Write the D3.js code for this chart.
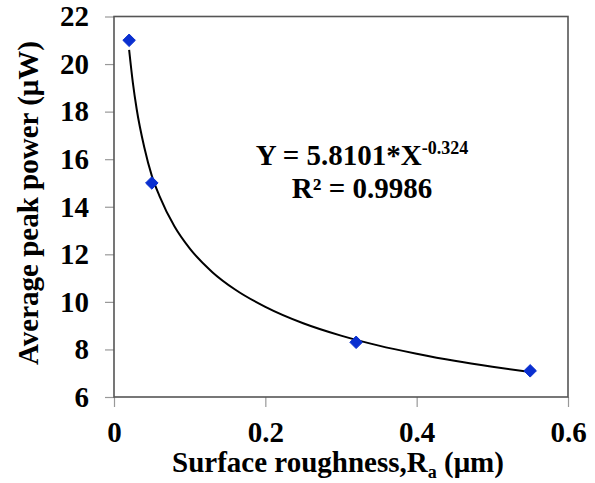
<!DOCTYPE html>
<html>
<head>
<meta charset="utf-8">
<script src="https://cdn.jsdelivr.net/npm/d3@7.9.0/dist/d3.min.js"></script>
<style>
  body { margin: 0; background: #fff; }
  #chart text { font-family: "Times New Roman", Times, "Liberation Serif", "DejaVu Serif", "Noto Serif", serif; }
</style>
</head>
<body>
<svg id="chart" width="595" height="483"></svg>
<script>
// measured points
const roughness = [0.02, 0.05, 0.32, 0.55];
const peakPower = [21, 15, 8.3, 7.1];

// power trendline
const trendX = [0.02, 0.025, 0.03, 0.04, 0.05, 0.06, 0.08, 0.1, 0.13, 0.16, 0.2, 0.25, 0.3, 0.35, 0.4, 0.45, 0.5, 0.55];
const trendY = [20.6, 19.2, 18.1, 16.5, 15.3, 14.46, 13.17, 12.25, 11.25, 10.52, 9.79, 9.1, 8.58, 8.16, 7.82, 7.52, 7.27, 7.05];

const xTicks = [0, 0.2, 0.4, 0.6];
const yTicks = [6, 8, 10, 12, 14, 16, 18, 20, 22];

const svg = d3.select('#chart');
const plotL = 114, plotR = 568, plotT = 16.5, plotB = 397;

const x = d3.scaleLinear().domain([0, 0.6]).range([plotL, plotR]);
const y = d3.scaleLinear().domain([6, 22]).range([plotB, plotT]);

// axes
const xAxis = svg.append('g')
  .attr('transform', `translate(0,${plotB})`)
  .call(d3.axisBottom(x).tickValues(xTicks).tickSize(10).tickPadding(14)
    .tickFormat(d => d === 0 ? '0' : d3.format('.1f')(d)));
const yAxis = svg.append('g')
  .attr('transform', `translate(${plotL},0)`)
  .call(d3.axisLeft(y).tickValues(yTicks).tickSize(9).tickPadding(16));

[xAxis, yAxis].forEach(g => {
  g.attr('font-size', 29).attr('font-weight', 'bold');
  g.select('.domain').remove();
  g.selectAll('line').attr('stroke', '#999').attr('stroke-width', 1.2);
});

// frame
svg.append('rect')
  .attr('x', plotL).attr('y', plotT)
  .attr('width', plotR - plotL).attr('height', plotB - plotT)
  .attr('fill', 'none').attr('stroke', '#555').attr('stroke-width', 1.6);

// trendline
const line = d3.line()
  .x(d => x(d))
  .y((d, i) => y(trendY[i]))
  .curve(d3.curveMonotoneX);
svg.append('path')
  .datum(trendX)
  .attr('d', line)
  .attr('fill', 'none')
  .attr('stroke', '#000')
  .attr('stroke-width', 2);

// markers
const diamond = d3.symbol().type(d3.symbolDiamond2).size(100);
svg.selectAll('path.pt')
  .data(roughness)
  .join('path')
  .attr('class', 'pt')
  .attr('transform', (d, i) => `translate(${x(d)},${y(peakPower[i])})`)
  .attr('d', diamond)
  .attr('fill', '#0a2fd0')
  .attr('stroke', '#0a2fd0')
  .attr('stroke-width', 1);

function label(sel) {
  return sel.attr('font-weight', 'bold').attr('fill', '#000');
}

// equation
const eq = label(svg.append('text'))
  .attr('x', 362).attr('y', 165)
  .attr('text-anchor', 'middle')
  .attr('font-size', 29);
eq.append('tspan').text('Y = 5.8101*X');
eq.append('tspan').attr('dy', -11).attr('font-size', 18).text('-0.324');

label(svg.append('text'))
  .attr('x', 362).attr('y', 198)
  .attr('text-anchor', 'middle')
  .attr('font-size', 29)
  .text('R² = 0.9986');

// axis titles
const xt = label(svg.append('text'))
  .attr('x', 338).attr('y', 472)
  .attr('text-anchor', 'middle')
  .attr('font-size', 29);
xt.append('tspan').text('Surface roughness,R');
xt.append('tspan').attr('dy', 6).attr('font-size', 18).text('a');
xt.append('tspan').attr('dy', -6).text(' (μm)');

label(svg.append('text'))
  .attr('transform', 'translate(38,203) rotate(-90)')
  .attr('text-anchor', 'middle')
  .attr('font-size', 29)
  .text('Average peak power (μW)');
</script>
</body>
</html>
